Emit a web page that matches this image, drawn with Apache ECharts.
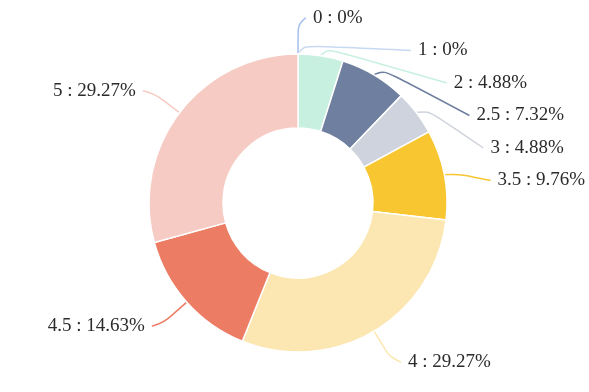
<!DOCTYPE html>
<html><head><meta charset="utf-8">
<script src="https://cdn.jsdelivr.net/npm/echarts@6/dist/echarts.min.js"></script>
<style>html,body{margin:0;padding:0;background:#fff}#c{width:589px;height:392px}</style>
</head><body><div id="c"></div>
<script>
const categories = ['0', '1', '2', '2.5', '3', '3.5', '4', '4.5', '5'];
const counts = [0, 0, 2, 3, 2, 4, 12, 6, 12];
const colors = ['#a6bfeb', '#c8d9f3', '#c7f0e0', '#6f7f9f', '#cfd3dd', '#f7c631', '#fce7b2', '#ec7d64', '#f6cbc3'];

// geometry of the ring
const CX = 298, CY = 203, R_IN = 75, R_OUT = 149;
// label layout parameters
const LEN = 9, R_NAT = 185, ELL_A = 201, ELL_B = 190, NAT_X = 15, GAP = 7, STEP = 32.5;

const total = counts.reduce((a, b) => a + b, 0);
function computeLabelLayout() {
  let cum = 0;
  const items = counts.map((v, i) => {
    const th = 2 * Math.PI * (cum + v / 2) / total;
    cum += v;
    const sx = Math.sin(th), sy = -Math.cos(th);
    const side = sx < 0 ? -1 : 1;
    return { i, sx, sy, side, y: CY + R_NAT * sy, natY: CY + R_NAT * sy };
  });
  [1, -1].forEach(side => {
    const up = items.filter(it => it.side === side && it.natY < CY).sort((a, b) => a.natY - b.natY || a.i - b.i);
    for (let k = 1; k < up.length; k++) up[k].y = Math.max(up[k].y, up[k - 1].y + STEP);
    const down = items.filter(it => it.side === side && it.natY >= CY).sort((a, b) => b.natY - a.natY);
    for (let k = 1; k < down.length; k++) down[k].y = Math.min(down[k].y, down[k - 1].y - STEP);
  });
  return items.map(it => {
    const dy = Math.abs(it.y - CY);
    const off = dy < R_NAT - 0.01 ? ELL_A * Math.sqrt(Math.max(0, 1 - dy * dy / (ELL_B * ELL_B))) : NAT_X;
    const tx = CX + it.side * off;
    const p0 = [CX + R_OUT * it.sx, CY + R_OUT * it.sy];
    const p2 = [tx - it.side * GAP, it.y];
    // bend point: where the radial direction meets the label's row, else a short radial stub
    let p1 = [CX + (R_OUT + LEN) * it.sx, CY + (R_OUT + LEN) * it.sy];
    if (Math.abs(it.sy) > 1e-6) {
      const t = (it.y - p0[1]) / it.sy;
      const bx = p0[0] + t * it.sx;
      if (t >= LEN && (p2[0] - bx) * it.side >= 0) p1 = [bx, it.y];
    }
    return { x: tx, y: it.y, align: it.side > 0 ? 'left' : 'right', pts: [p0, p1, p2] };
  });
}
const labelPos = computeLabelLayout();

const chart = echarts.init(document.getElementById('c'));
chart.setOption({
  animation: false,
  series: [{
    type: 'pie',
    center: [CX, CY],
    radius: [R_IN, R_OUT],
    startAngle: 90,
    clockwise: true,
    itemStyle: { borderColor: '#fff', borderWidth: 1.5 },
    label: {
      formatter: p => p.name + ' : ' + (Math.round(p.value / total * 10000) / 100) + '%',
      fontFamily: 'Liberation Serif',
      fontSize: 19,
      color: '#2b2b2b'
    },
    labelLine: { show: true, smooth: 0.9, length: 10, length2: 10, lineStyle: { width: 1.5 } },
    labelLayout: p => {
      const L = labelPos[p.dataIndex];
      return { x: L.x, y: L.y, align: L.align, verticalAlign: 'middle', labelLinePoints: L.pts };
    },
    data: categories.map((c, i) => ({ name: c, value: counts[i], itemStyle: { color: colors[i] } }))
  }]
});
</script></body></html>
